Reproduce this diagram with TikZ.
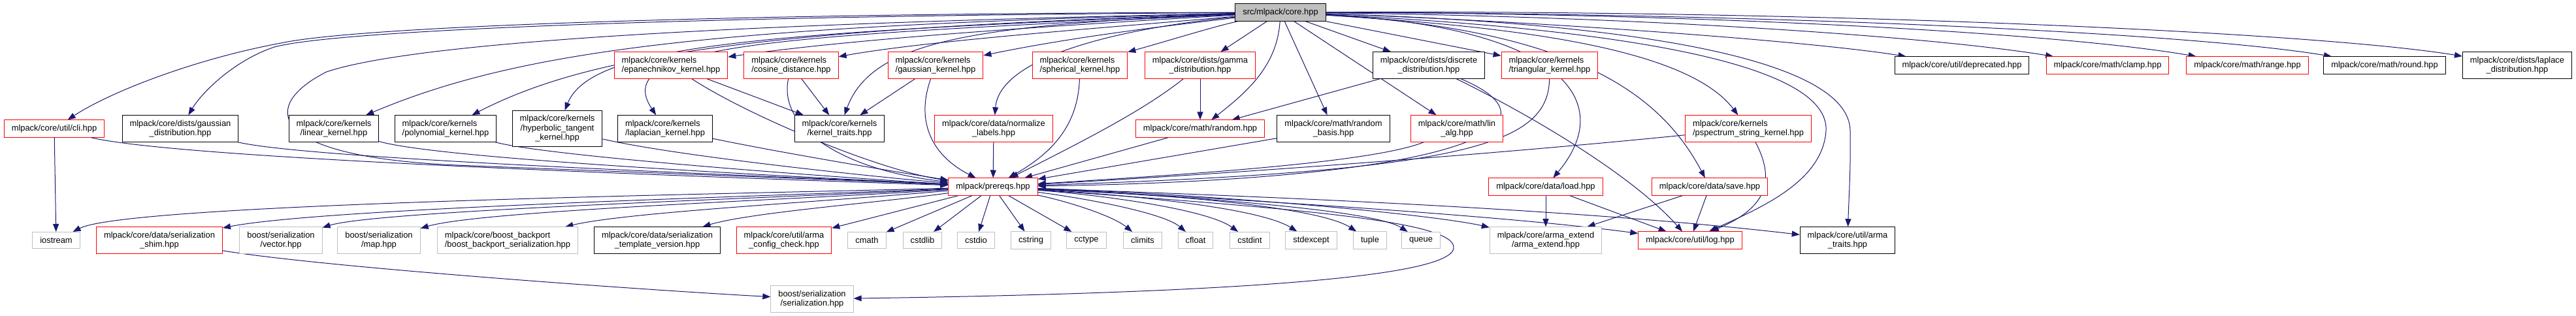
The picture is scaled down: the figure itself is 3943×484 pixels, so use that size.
\documentclass[tikz,border=0pt]{standalone}
\usepackage{fontspec}
\setmainfont{Liberation Sans}
\usetikzlibrary{arrows.meta,backgrounds}
\definecolor{edgeblue}{RGB}{25,25,112}
\definecolor{extgray}{RGB}{191,191,191}
\definecolor{undoc}{RGB}{255,0,0}
\newcommand{\gfont}{\fontsize{12.9}{14.5}\selectfont}
\tikzset{
  >={Triangle[length=12pt,width=9pt]},
  hdr/.style={draw=#1,line width=1pt,fill=white,inner xsep=11.5pt,inner ysep=7pt,
    minimum height=25pt,align=center,font=\gfont},
  hdr/.default=black,
  hdr left/.style={hdr=#1,align=left},
  hdr left/.default=undoc,
  ext hdr/.style={hdr=extgray},
  main hdr/.style={hdr=black,fill=extgray},
  incl/.style={->,draw=edgeblue,line width=1pt},
}
\begin{document}
\begin{tikzpicture}[x=1pt,y=1pt]
\useasboundingbox (0,0) rectangle (3943,-484);
% the file itself
\node[main hdr] (root) at (1960,-19) {src/mlpack/core.hpp};
% first row
\node[hdr left] (epaker) at (1027,-100) {mlpack/core/kernels\\/epanechnikov\_kernel.hpp};
\node[hdr left] (cosdist) at (1211,-100) {mlpack/core/kernels\\/cosine\_distance.hpp};
\node[hdr left] (gaussker) at (1432,-100) {mlpack/core/kernels\\/gaussian\_kernel.hpp};
\node[hdr left] (spheker) at (1653,-100) {mlpack/core/kernels\\/spherical\_kernel.hpp};
\node[hdr=undoc] (gammadist) at (1837,-100) {mlpack/core/dists/gamma\\\_distribution.hpp};
\node[hdr] (discdist) at (2187,-100) {mlpack/core/dists/discrete\\\_distribution.hpp};
\node[hdr left] (triker) at (2372,-100) {mlpack/core/kernels\\/triangular\_kernel.hpp};
\node[hdr] (deprec) at (3003,-100) {mlpack/core/util/deprecated.hpp};
\node[hdr=undoc] (mclamp) at (3226,-100) {mlpack/core/math/clamp.hpp};
\node[hdr=undoc] (mrange) at (3440,-100) {mlpack/core/math/range.hpp};
\node[hdr] (mround) at (3650,-100) {mlpack/core/math/round.hpp};
\node[hdr] (lapdist) at (3853,-100) {mlpack/core/dists/laplace\\\_distribution.hpp};
% second row
\node[hdr=undoc] (cli) at (83,-197) {mlpack/core/util/cli.hpp};
\node[hdr] (gdist) at (276,-197) {mlpack/core/dists/gaussian\\\_distribution.hpp};
\node[hdr] (linker) at (511,-197) {mlpack/core/kernels\\/linear\_kernel.hpp};
\node[hdr left=black] (polyker) at (682,-197) {mlpack/core/kernels\\/polynomial\_kernel.hpp};
\node[hdr] (tanhker) at (853,-197) {mlpack/core/kernels\\/hyperbolic\_tangent\\\_kernel.hpp};
\node[hdr left=black] (lapker) at (1018,-197) {mlpack/core/kernels\\/laplacian\_kernel.hpp};
\node[hdr] (ktraits) at (1285,-197) {mlpack/core/kernels\\/kernel\_traits.hpp};
\node[hdr=undoc] (normlab) at (1521,-197) {mlpack/core/data/normalize\\\_labels.hpp};
\node[hdr=undoc] (mrandom) at (1837,-197) {mlpack/core/math/random.hpp};
\node[hdr] (rbasis) at (2041,-197) {mlpack/core/math/random\\\_basis.hpp};
\node[hdr=undoc] (linalg) at (2230,-197) {mlpack/core/math/lin\\\_alg.hpp};
\node[hdr left] (pspec) at (2676,-197) {mlpack/core/kernels\\/pspectrum\_string\_kernel.hpp};
% third row
\node[hdr=undoc] (prereqs) at (1520,-286) {mlpack/prereqs.hpp};
\node[hdr=undoc] (dload) at (2366,-286) {mlpack/core/data/load.hpp};
\node[hdr=undoc] (dsave) at (2617,-286) {mlpack/core/data/save.hpp};
% fourth row
\node[ext hdr] (iostream) at (86,-368) {iostream};
\node[hdr=undoc] (shim) at (244,-368) {mlpack/core/data/serialization\\\_shim.hpp};
\node[ext hdr] (bvector) at (430,-368) {boost/serialization\\/vector.hpp};
\node[ext hdr] (bmap) at (580,-368) {boost/serialization\\/map.hpp};
\node[ext hdr,align=left] (backport) at (777,-368) {mlpack/core/boost\_backport\\/boost\_backport\_serialization.hpp};
\node[hdr] (tmplver) at (1006,-368) {mlpack/core/data/serialization\\\_template\_version.hpp};
\node[hdr=undoc] (armacfg) at (1200,-368) {mlpack/core/util/arma\\\_config\_check.hpp};
\node[ext hdr] (cmath) at (1327,-368) {cmath};
\node[ext hdr] (cstdlib) at (1412,-368) {cstdlib};
\node[ext hdr] (cstdio) at (1494,-368) {cstdio};
\node[ext hdr] (cstring) at (1578,-368) {cstring};
\node[ext hdr] (cctype) at (1663,-368) {cctype};
\node[ext hdr] (climits) at (1749,-368) {climits};
\node[ext hdr] (cfloat) at (1830,-368) {cfloat};
\node[ext hdr] (cstdint) at (1913,-368) {cstdint};
\node[ext hdr] (stdexcept) at (2007,-368) {stdexcept};
\node[ext hdr] (tuple) at (2097,-368) {tuple};
\node[ext hdr] (queue) at (2175,-368) {queue};
\node[ext hdr] (armaext) at (2366,-368) {mlpack/core/arma\_extend\\/arma\_extend.hpp};
\node[hdr=undoc] (ulog) at (2587,-368) {mlpack/core/util/log.hpp};
\node[hdr] (atraits) at (2828,-368) {mlpack/core/util/arma\\\_traits.hpp};
% last row
\node[ext hdr] (bser) at (1243,-458) {boost/serialization\\/serialization.hpp};

\begin{scope}[on background layer]
% includes of core.hpp
\draw[incl] (root) .. controls (1200,-20) and (560,-38) .. (430,-66) .. controls (300,-90) and (170,-140) .. (cli);
\draw[incl] (root) .. controls (1100,-24) and (520,-45) .. (420,-72) .. controls (360,-92) and (310,-140) .. (gdist);
\draw[incl] (root) .. controls (1100,-40) and (800,-75) .. (linker);
\draw[incl] (root) .. controls (1150,-45) and (900,-85) .. (polyker);
\draw[incl] (root) .. controls (1150,-50) and (905,-70) .. (tanhker);
\draw[incl] (root) .. controls (1200,-55) and (930,-65) .. (lapker);
\draw[incl] (root) .. controls (1600,-40) and (1300,-60) .. (epaker);
\draw[incl] (root) .. controls (1700,-42) and (1420,-62) .. (cosdist);
\draw[incl] (root) .. controls (1500,-38) and (1335,-60) .. (ktraits);
\draw[incl] (root) .. controls (1800,-38) and (1650,-55) .. (gaussker);
\draw[incl] (root) .. controls (1860,-40) and (1790,-62) .. (spheker);
\draw[incl] (root) .. controls (1700,-45) and (1530,-90) .. (normlab);
\draw[incl] (root) .. controls (1955,-100) and (1910,-140) .. (mrandom);
\foreach \n in {gammadist,rbasis,linalg,discdist,triker}
  \draw[incl] (root) -- (\n);
\draw[incl] (root) .. controls (2380,-40) and (2480,-150) .. (dload);
\draw[incl] (root) .. controls (2420,-45) and (2545,-150) .. (dsave);
\draw[incl] (root) .. controls (2300,-40) and (2580,-70) .. (pspec);
\draw[incl] (root) .. controls (2500,-45) and (2800,-100) .. (2795,-200) .. controls (2790,-280) and (2690,-320) .. (ulog);
\draw[incl] (root) .. controls (2500,-35) and (2830,-90) .. (2832,-200) .. controls (2833,-260) and (2830,-300) .. (atraits);
\draw[incl] (root) .. controls (2300,-30) and (2750,-60) .. (deprec);
\draw[incl] (root) .. controls (2500,-25) and (2950,-55) .. (mclamp);
\draw[incl] (root) .. controls (2600,-20) and (3150,-50) .. (mrange);
\draw[incl] (root) .. controls (2700,-20) and (3350,-50) .. (mround);
\draw[incl] (root) .. controls (2800,-15) and (3550,-50) .. (lapdist);
\draw[incl] (root) .. controls (1200,-35) and (650,-60) .. (500,-110) .. controls (400,-160) and (400,-240) .. (700,-253) .. controls (1000,-265) and (1300,-276) .. (prereqs);
% between the headers
\foreach \n in {epaker,cosdist,gaussker}
  \draw[incl] (\n) -- (ktraits);
\draw[incl] (gammadist) -- (mrandom);
\draw[incl] (discdist) -- (mrandom);
\draw[incl] (cli) -- (iostream);
\draw[incl] (cli) .. controls (260,-240) and (900,-265) .. (prereqs);
\draw[incl] (gdist) .. controls (480,-245) and (1200,-270) .. (prereqs);
\draw[incl] (linker) .. controls (680,-245) and (1250,-272) .. (prereqs);
\draw[incl] (polyker) .. controls (840,-240) and (1300,-273) .. (prereqs);
\draw[incl] (tanhker) .. controls (1040,-240) and (1350,-272) .. (prereqs);
\draw[incl] (lapker) .. controls (1200,-235) and (1400,-268) .. (prereqs);
\draw[incl] (epaker) .. controls (1150,-180) and (1350,-262) .. (prereqs);
\draw[incl] (cosdist) .. controls (1190,-200) and (1300,-262) .. (prereqs);
\draw[incl] (gaussker) .. controls (1400,-190) and (1430,-240) .. (prereqs);
\draw[incl] (spheker) .. controls (1650,-200) and (1600,-240) .. (prereqs);
\draw[incl] (gammadist) .. controls (1750,-170) and (1650,-220) .. (prereqs);
\foreach \n in {normlab,mrandom,rbasis}
  \draw[incl] (\n) -- (prereqs);
\draw[incl] (linalg) .. controls (2100,-250) and (1800,-268) .. (prereqs);
\draw[incl] (discdist) .. controls (2400,-190) and (2250,-275) .. (prereqs);
\draw[incl] (triker) .. controls (2370,-220) and (2250,-262) .. (prereqs);
\draw[incl] (pspec) .. controls (2300,-235) and (1900,-265) .. (prereqs);
\draw[incl] (discdist) .. controls (2350,-180) and (2500,-270) .. (ulog);
\draw[incl] (pspec) .. controls (2720,-280) and (2700,-320) .. (ulog);
\foreach \n in {dload,dsave}{
  \draw[incl] (\n) -- (armaext);
  \draw[incl] (\n) -- (ulog);
}
% includes of prereqs.hpp
\draw[incl] (prereqs) .. controls (1200,-296) and (200,-310) .. (iostream);
\draw[incl] (prereqs) .. controls (1200,-300) and (500,-318) .. (shim);
\draw[incl] (prereqs) .. controls (1200,-303) and (580,-322) .. (bvector);
\draw[incl] (prereqs) .. controls (1220,-306) and (740,-322) .. (bmap);
\draw[incl] (prereqs) .. controls (1250,-310) and (960,-325) .. (backport);
\draw[incl] (prereqs) .. controls (1350,-310) and (1150,-325) .. (tmplver);
\foreach \n in {armacfg,cmath,cstdlib,cstdio,cstring,cctype}
  \draw[incl] (prereqs) -- (\n);
\draw[incl] (prereqs) .. controls (1620,-305) and (1700,-328) .. (climits);
\draw[incl] (prereqs) .. controls (1650,-302) and (1780,-325) .. (cfloat);
\draw[incl] (prereqs) .. controls (1700,-300) and (1850,-322) .. (cstdint);
\draw[incl] (prereqs) .. controls (1750,-300) and (1930,-320) .. (stdexcept);
\draw[incl] (prereqs) .. controls (1800,-298) and (2020,-318) .. (tuple);
\draw[incl] (prereqs) .. controls (1800,-300) and (2100,-320) .. (queue);
\draw[incl] (prereqs) .. controls (1900,-300) and (2200,-330) .. (armaext);
\draw[incl] (prereqs) .. controls (1900,-305) and (2300,-330) .. (ulog);
\draw[incl] (prereqs) .. controls (1900,-300) and (2400,-318) .. (atraits);
\draw[incl] (prereqs) .. controls (2000,-320) and (2230,-340) .. (2225,-380) .. controls (2220,-430) and (1800,-450) .. (bser);
\draw[incl] (shim) .. controls (500,-410) and (1000,-445) .. (bser);
\end{scope}
\end{tikzpicture}
\end{document}
